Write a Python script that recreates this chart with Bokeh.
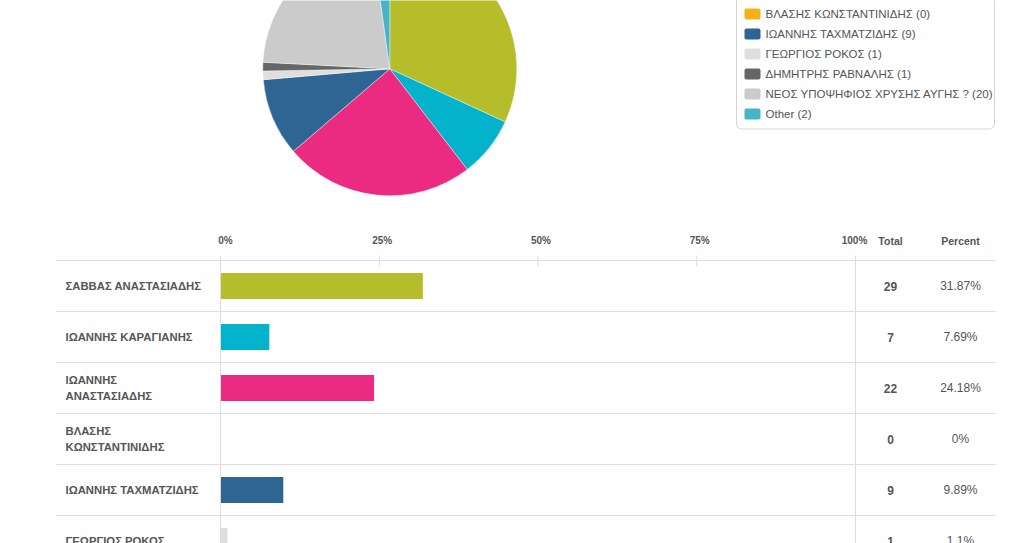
import numpy as np
from bokeh.plotting import figure
from bokeh.models import Range1d, ColumnDataSource
from bokeh.core.properties import value
from bokeh.embed import file_html
from bokeh.resources import INLINE

# ---------------- data ----------------
names = ["ΣΑΒΒΑΣ ΑΝΑΣΤΑΣΙΑΔΗΣ", "ΙΩΑΝΝΗΣ ΚΑΡΑΓΙΑΝΗΣ", "ΙΩΑΝΝΗΣ ΑΝΑΣΤΑΣΙΑΔΗΣ",
         "ΒΛΑΣΗΣ ΚΩΝΣΤΑΝΤΙΝΙΔΗΣ", "ΙΩΑΝΝΗΣ ΤΑΧΜΑΤΖΙΔΗΣ", "ΓΕΩΡΓΙΟΣ ΡΟΚΟΣ",
         "ΔΗΜΗΤΡΗΣ ΡΑΒΝΑΛΗΣ", "ΝΕΟΣ ΥΠΟΨΗΦΙΟΣ ΧΡΥΣΗΣ ΑΥΓΗΣ ?", "Other"]
row_labels = ["ΣΑΒΒΑΣ ΑΝΑΣΤΑΣΙΑΔΗΣ", "ΙΩΑΝΝΗΣ ΚΑΡΑΓΙΑΝΗΣ", "ΙΩΑΝΝΗΣ\nΑΝΑΣΤΑΣΙΑΔΗΣ",
              "ΒΛΑΣΗΣ\nΚΩΝΣΤΑΝΤΙΝΙΔΗΣ", "ΙΩΑΝΝΗΣ ΤΑΧΜΑΤΖΙΔΗΣ", "ΓΕΩΡΓΙΟΣ ΡΟΚΟΣ",
              "ΔΗΜΗΤΡΗΣ ΡΑΒΝΑΛΗΣ", "ΝΕΟΣ ΥΠΟΨΗΦΙΟΣ\nΧΡΥΣΗΣ ΑΥΓΗΣ ?", "Other"]
totals = [29, 7, 22, 0, 9, 1, 1, 20, 2]
percent_values = [31.87, 7.69, 24.18, 0, 9.89, 1.1, 1.1, 21.98, 2.2]
percent_labels = ["31.87%", "7.69%", "24.18%", "0%", "9.89%", "1.1%", "1.1%", "21.98%", "2.2%"]
colors = ["#b6bd2b", "#03b3cc", "#eb2a82", "#f5b118", "#2e6592",
          "#dedede", "#666666", "#cbcbcb", "#49b3c6"]
axis_ticks = [0, 25, 50, 75, 100]
header_labels = ["Total", "Percent"]

# ---------------- layout constants ----------------
W, H = 1033, 543
def Y(py):
    return H - np.asarray(py, dtype=float)

X0, X1 = 220, 855            # 0% and 100% pixel positions
ROW0, ROWH = 260, 51          # header line / row height
TEXT = "#555555"
GRID = "#dddddd"
FONT = value("Liberation Sans")

p = figure(width=W, height=H, x_range=Range1d(0, W), y_range=Range1d(0, H),
           output_backend="svg", toolbar_location=None, min_border=0)
p.axis.visible = False
p.grid.visible = False
p.outline_line_color = None
p.background_fill_color = "white"
p.border_fill_color = "white"
p.extra_x_ranges = {"pct": Range1d(-X0 / (X1 - X0) * 100, (W - X0) / (X1 - X0) * 100)}

# ---------------- pie ----------------
vals = np.array(totals, dtype=float)
frac = vals / vals.sum()
cum = np.concatenate([[0], np.cumsum(frac)])
keep = vals > 0
pie = ColumnDataSource(dict(
    start=(np.pi / 2 - 2 * np.pi * cum[:-1])[keep],
    end=(np.pi / 2 - 2 * np.pi * cum[1:])[keep],
    color=np.array(colors)[keep],
))
p.wedge(x=389.3, y=float(Y(68.3)), radius=127, start_angle="start", end_angle="end",
        direction="clock", fill_color="color", line_color="white", line_width=0.4,
        source=pie)

# ---------------- legend ----------------
n = len(names)
leg_y = 13.5 + 20 * (np.arange(n) - 3)
p.quad(left=736, right=994, top=float(Y(-250)), bottom=float(Y(128.5)),
       fill_color="white", line_color="#d4d4d4", line_width=1, border_radius=5)
p.quad(left=744, right=760, top=Y(leg_y - 5.5), bottom=Y(leg_y + 5.5),
       fill_color=colors, line_color=None, border_radius=2)
leg_text = [f"{nm} ({t})" for nm, t in zip(names, totals)]
vis = leg_y > 0
p.text(x=765, y=Y(leg_y[vis]), text=[t for t, v in zip(leg_text, vis) if v],
       text_font=FONT, text_font_size="11.5px",
       text_color=TEXT, text_baseline="middle", text_align="left")

# ---------------- table / bars ----------------
n_rows = len(names)
row_c = ROW0 + ROWH * (np.arange(n_rows) + 0.5)
rv = row_c < H + 15   # rows that reach the visible page

# horizontal row separators
seps = ROW0 + ROWH * np.arange(n_rows + 1)
p.segment(x0=55, x1=995, y0=Y(seps), y1=Y(seps), line_color=GRID, line_width=1)

# bars
p.hbar(y=Y(row_c), left=0, right=percent_values, height=26, fill_color=colors,
       line_color=None, x_range_name="pct")

# axis lines / ticks
p.segment(x0=[0, 100], x1=[0, 100], y0=float(Y(255)), y1=float(Y(700)),
          line_color=GRID, line_width=1, x_range_name="pct")
p.segment(x0=axis_ticks[1:-1], x1=axis_ticks[1:-1], y0=float(Y(255)), y1=float(Y(266)),
          line_color=GRID, line_width=1, x_range_name="pct")
p.text(x=axis_ticks, y=float(Y(240)), text=[f"{t}%" for t in axis_ticks],
       x_offset=[5, 3, 3, 3, -1], text_font=FONT, text_font_size="10px",
       text_font_style="bold", text_color=TEXT, text_align="center",
       text_baseline="middle", x_range_name="pct")
p.text(x=[890, 960], y=float(Y(240)), text=header_labels, text_font=FONT,
       text_font_size="10.5px", text_font_style="bold", text_color=TEXT,
       text_align="center", text_baseline="middle")

# row labels
sel = lambda arr: [a for a, v in zip(arr, rv) if v]
p.text(x=65, y=Y(row_c[rv]), text=sel(row_labels), text_font=FONT, text_font_size="11.3px",
       text_font_style="bold", text_color=TEXT, text_align="left",
       text_baseline="middle", text_line_height=1.3)
# totals and percents
p.text(x=890, y=Y(row_c[rv]), text=sel([str(t) for t in totals]), text_font=FONT,
       text_font_size="12px", text_font_style="bold", text_color=TEXT,
       text_align="center", text_baseline="middle")
p.text(x=960, y=Y(row_c[rv]), text=sel(percent_labels), text_font=FONT,
       text_font_size="12px", text_color=TEXT, text_align="center",
       text_baseline="middle")

open("out.html", "w").write(file_html(p, INLINE))
